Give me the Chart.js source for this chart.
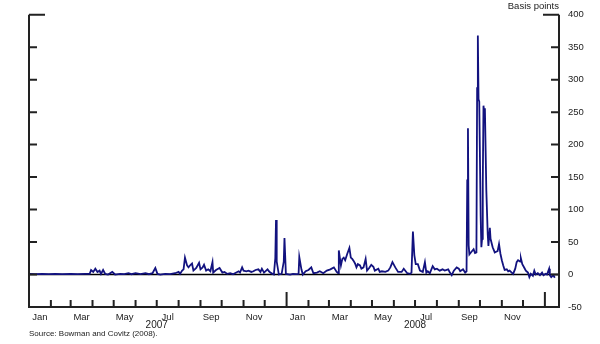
<!DOCTYPE html>
<html>
<head>
<meta charset="utf-8">
<script src="https://cdn.jsdelivr.net/npm/chart.js@4.4.1/dist/chart.umd.min.js"></script>
<style>
  html, body { margin: 0; padding: 0; background: #fff; }
  #wrap { width: 600px; height: 344px; }
</style>
</head>
<body>
<div id="wrap"><canvas id="spreadChart" width="600" height="344"></canvas></div>
<script>
// observation dates as days since 2007-01-01, spread in basis points
const daysSince2007 = [
  1, 9, 19, 28, 37, 47, 59, 69, 79, 86,
  88, 91, 94, 97, 100, 102, 105, 108, 112, 118,
  122, 129, 135, 141, 145, 151, 158, 165, 170, 175,
  179, 182, 186, 193, 200, 207, 212, 214, 217, 219,
  221, 224, 226, 229, 231, 233, 237, 241, 243, 246,
  248, 251, 254, 257, 260, 261, 265, 270, 274, 277,
  281, 285, 289, 297, 299, 302, 304, 308, 311, 315,
  318, 321, 325, 328, 330, 333, 338, 340, 342, 345,
  347, 349, 350, 351, 354, 358, 361, 362, 364, 370,
  374, 379, 382, 383, 386, 388, 392, 396, 400, 403,
  408, 412, 417, 422, 427, 432, 436, 438, 439, 442,
  444, 446, 448, 451, 454, 456, 458, 460, 462, 464,
  466, 469, 471, 474, 477, 479, 482, 485, 488, 490,
  495, 497, 500, 505, 509, 512, 515, 519, 523, 528,
  531, 536, 540, 542, 544, 546, 548, 551, 554, 558,
  561, 563, 565, 568, 572, 575, 578, 582, 586, 589,
  594, 596, 599, 602, 606, 609, 611, 615, 618, 620,
  621, 622, 623, 624, 627, 630, 632, 634, 635, 636,
  637, 638, 640, 641, 642, 643, 644, 645, 646, 648,
  650, 651, 653, 654, 657, 660, 662, 664, 666, 668,
  670, 672, 674, 677, 679, 681, 684, 686, 689, 691,
  693, 696, 697, 699, 702, 704, 707, 709, 711, 714,
  716, 718, 721, 724, 727, 729, 732, 734, 737, 738,
  740, 743, 745
];
const spreadBp = [
  1, 0.5, 1, 0.5, 1, 0.5, 1, 0.5, 1, 1,
  7, 4, 9, 4, 6, 1, 7, 1, 0, 4,
  0, 1, 0.5, 2, 0.5, 2, 0.5, 2, 0.5, 2,
  10, 1, 0, 1, 0.5, 2, 4, 1, 6, 8,
  26, 14, 11, 15, 17, 6, 10, 18, 8, 11,
  15, 6, 8, 5, 19, 3, 7, 10, 3, 4,
  1, 2, 0.5, 5, 3, 11, 6, 5, 6, 4,
  5, 7, 8, 4, 9, 3, 8, 5, 3, 1,
  0, 25, 84, 20, 0, 1, 20, 56, 1, 0,
  1, 0.5, 1, 27, 8, 0, 5, 7, 11, 2,
  3, 5, 2, 6, 8, 11, 4, 2, 37, 14,
  24, 26, 22, 32, 41, 26, 24, 21, 17, 11,
  16, 14, 9, 11, 24, 6, 10, 15, 12, 6,
  9, 4, 5, 4, 6, 11, 19, 11, 4, 4,
  9, 2, 1, 3, 66, 30, 16, 16, 6, 4,
  19, 3, 5, 2, 13, 8, 9, 6, 8, 6,
  8, 4, -1, 6, 11, 9, 5, 8, 3, 5,
  145, 225, 45, 31, 35, 39, 33, 34, 287, 368,
  270, 266, 90, 42, 55, 140, 260, 250, 256, 130,
  62, 44, 72, 55, 42, 34, 35, 36, 47, 32,
  22, 14, 7, 8, 5, 6, 3, 1, 9, 19,
  22, 20, 25, 16, 10, 6, 3, -4, 1, -2,
  6, 0, 2, -1, 3, -1, 1, 0, 9, -1,
  -4, -1, -5
];

const years = [2007, 2008];
const monthLabels = ['Jan', '', 'Mar', '', 'May', '', 'Jul', '', 'Sep', '', 'Nov', ''];
const yMin = -50, yMax = 400, yStep = 50;
const unitLabel = 'Basis points';
const sourceNote = 'Source: Bowman and Covitz (2008).';

const FONT = '"Liberation Sans", Arial, sans-serif';
const INK = '#222';

function dayOf(y, m, d) {
  return (Date.UTC(y, m, d) - Date.UTC(2007, 0, 1)) / 86400000;
}

// frame, zero line, month ticks and labels
const frame = {
  id: 'frame',
  beforeDatasetsDraw(chart) {
    const { ctx, chartArea: a, scales: { y } } = chart;
    const y0 = y.getPixelForValue(0);
    ctx.save();
    ctx.strokeStyle = '#000';
    ctx.lineWidth = 1.5;
    ctx.beginPath();
    ctx.moveTo(a.left, y0);
    ctx.lineTo(a.right, y0);
    ctx.stroke();
    ctx.restore();
  },
  afterDraw(chart) {
    const { ctx, chartArea: a, scales: { x, y } } = chart;
    ctx.save();
    ctx.strokeStyle = INK;
    ctx.lineWidth = 2;

    ctx.beginPath();
    ctx.moveTo(a.left, a.top);
    ctx.lineTo(a.left, a.bottom);
    ctx.lineTo(a.right, a.bottom);
    ctx.lineTo(a.right, a.top);
    for (let v = yMin; v <= yMax; v += yStep) {
      const py = y.getPixelForValue(v);
      const len = v === yMax ? 16 : 8;
      ctx.moveTo(a.left, py); ctx.lineTo(a.left + len, py);
      ctx.moveTo(a.right, py); ctx.lineTo(a.right - len, py);
    }
    years.forEach(yr => {
      for (let m = 0; m < 12; m++) {
        if (yr === years[0] && m === 0) continue;
        const px = x.getPixelForValue(dayOf(yr, m, 1));
        ctx.moveTo(px, a.bottom);
        ctx.lineTo(px, a.bottom - (m === 0 ? 15 : 7));
      }
    });
    const px9 = x.getPixelForValue(dayOf(years[1] + 1, 0, 1));
    ctx.moveTo(px9, a.bottom);
    ctx.lineTo(px9, a.bottom - 15);
    ctx.stroke();

    ctx.fillStyle = INK;
    ctx.textAlign = 'center';
    ctx.textBaseline = 'middle';
    years.forEach(yr => {
      ctx.font = '9.5px ' + FONT;
      monthLabels.forEach((lab, m) => {
        if (!lab) return;
        const mid = (dayOf(yr, m, 1) + dayOf(yr, m + 1, 1)) / 2;
        ctx.fillText(lab, x.getPixelForValue(mid), a.bottom + 10);
      });
      ctx.font = '10px ' + FONT;
      ctx.fillText(String(yr), x.getPixelForValue(dayOf(yr, 6, 1)), a.bottom + 18);
    });

    ctx.textAlign = 'right';
    ctx.font = '9.5px ' + FONT;
    ctx.fillText(unitLabel, a.right, 6);

    ctx.textAlign = 'left';
    ctx.font = '8px ' + FONT;
    ctx.fillText(sourceNote, a.left, a.bottom + 27);
    ctx.restore();
  }
};

new Chart(document.getElementById('spreadChart'), {
  type: 'line',
  data: {
    datasets: [{
      data: daysSince2007.map((d, i) => ({ x: d, y: spreadBp[i] })),
      borderColor: '#12127f',
      borderWidth: 1.8,
      pointRadius: 0,
      tension: 0,
      fill: false
    }]
  },
  options: {
    responsive: false,
    animation: false,
    devicePixelRatio: 1,
    layout: { padding: { top: 13, left: 29, right: 0, bottom: 37 } },
    plugins: { legend: { display: false }, tooltip: { enabled: false } },
    scales: {
      x: { type: 'linear', min: 0, max: 751, display: false },
      y: {
        position: 'right',
        min: yMin,
        max: yMax,
        grid: { display: false, drawTicks: false },
        border: { display: false },
        ticks: { stepSize: yStep, padding: 9, color: INK, font: { family: FONT, size: 9.5 } },
        afterFit(s) { s.width = 41; }
      }
    }
  },
  plugins: [frame]
});
</script>
</body>
</html>
